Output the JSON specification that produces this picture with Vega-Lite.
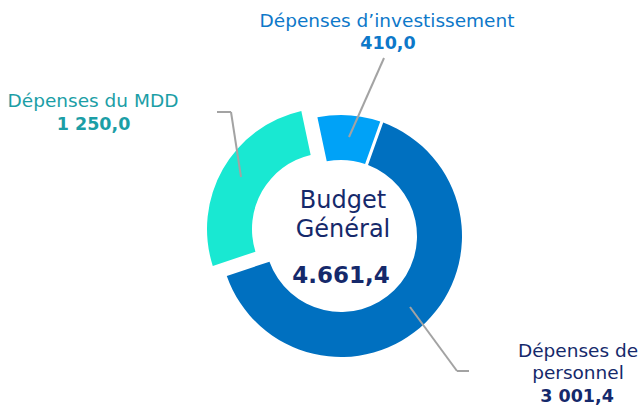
{
  "$schema": "https://vega.github.io/schema/vega-lite/v6.json",
  "width": 641,
  "height": 408,
  "autosize": "none",
  "padding": 0,
  "background": "white",
  "config": {
    "view": {"stroke": null},
    "font": "DejaVu Sans",
    "locale": {"number": {"decimal": ",", "thousands": ".", "grouping": [3], "currency": ["", ""]}}
  },
  "data": {
    "values": [
      {"rank": 1, "cat": "Dépenses d’investissement", "name": ["Dépenses d’investissement"], "value": 410.0, "label": "410,0"},
      {"rank": 2, "cat": "Dépenses de personnel", "name": ["Dépenses de", "personnel"], "value": 3001.4, "label": "3 001,4"},
      {"rank": 3, "cat": "Dépenses du MDD", "name": ["Dépenses du MDD"], "value": 1250.0, "label": "1 250,0"}
    ]
  },
  "transform": [
    {"stack": "value", "groupby": [], "sort": [{"field": "rank", "order": "ascending"}], "as": ["start", "end"]}
  ],
  "layer": [
    {
      "transform": [{"filter": "datum.rank != 3"}],
      "mark": {"type": "arc", "innerRadius": 76, "outerRadius": 121, "padAngle": 0.022, "xOffset": 20.5, "yOffset": 32},
      "encoding": {
        "theta": {"field": "start", "type": "quantitative", "scale": {"domain": [0, 4661.4], "range": [-0.2094, 6.0738]}},
        "theta2": {"field": "end"},
        "color": {"field": "cat", "type": "nominal", "legend": null,
          "scale": {"domain": ["Dépenses d’investissement", "Dépenses de personnel", "Dépenses du MDD"], "range": ["#00a2f7", "#0070c0", "#19e8d2"]}}
      }
    },
    {
      "transform": [{"filter": "datum.rank == 3"}],
      "mark": {"type": "arc", "innerRadius": 76, "outerRadius": 121, "padAngle": 0.022, "xOffset": 7.5, "yOffset": 25},
      "encoding": {
        "theta": {"field": "start", "type": "quantitative", "scale": {"domain": [0, 4661.4], "range": [-0.2094, 6.0738]}},
        "theta2": {"field": "end"},
        "color": {"field": "cat", "type": "nominal", "legend": null}
      }
    },
    {
      "transform": [{"filter": "datum.rank == 1"}],
      "mark": {"type": "rule", "color": "#a3a3a3", "strokeWidth": 2},
      "encoding": {"x": {"value": 349}, "y": {"value": 137}, "x2": {"value": 384}, "y2": {"value": 58}}
    },
    {
      "transform": [{"filter": "datum.rank == 3"}],
      "mark": {"type": "rule", "color": "#a3a3a3", "strokeWidth": 2},
      "encoding": {"x": {"value": 241}, "y": {"value": 177}, "x2": {"value": 231}, "y2": {"value": 112}}
    },
    {
      "transform": [{"filter": "datum.rank == 3"}],
      "mark": {"type": "rule", "color": "#a3a3a3", "strokeWidth": 2},
      "encoding": {"x": {"value": 231}, "y": {"value": 112}, "x2": {"value": 217}, "y2": {"value": 112}}
    },
    {
      "transform": [{"filter": "datum.rank == 2"}],
      "mark": {"type": "rule", "color": "#a3a3a3", "strokeWidth": 2},
      "encoding": {"x": {"value": 410}, "y": {"value": 307}, "x2": {"value": 457}, "y2": {"value": 371}}
    },
    {
      "transform": [{"filter": "datum.rank == 2"}],
      "mark": {"type": "rule", "color": "#a3a3a3", "strokeWidth": 2},
      "encoding": {"x": {"value": 457}, "y": {"value": 371}, "x2": {"value": 469}, "y2": {"value": 371}}
    },
    {
      "transform": [{"filter": "datum.rank == 1"}],
      "mark": {"type": "text", "align": "center", "baseline": "alphabetic", "fontSize": 18.5, "color": "#0d78c9"},
      "encoding": {"x": {"value": 387}, "y": {"value": 26.5}, "text": {"field": "name"}}
    },
    {
      "transform": [{"filter": "datum.rank == 1"}],
      "mark": {"type": "text", "align": "center", "baseline": "alphabetic", "fontSize": 17.5, "fontWeight": "bold", "color": "#0d78c9"},
      "encoding": {"x": {"value": 388}, "y": {"value": 48.5}, "text": {"field": "label"}}
    },
    {
      "transform": [{"filter": "datum.rank == 3"}],
      "mark": {"type": "text", "align": "center", "baseline": "alphabetic", "fontSize": 18.5, "color": "#1b9ea6"},
      "encoding": {"x": {"value": 93}, "y": {"value": 106.5}, "text": {"field": "name"}}
    },
    {
      "transform": [{"filter": "datum.rank == 3"}],
      "mark": {"type": "text", "align": "center", "baseline": "alphabetic", "fontSize": 17.5, "fontWeight": "bold", "color": "#1b9ea6"},
      "encoding": {"x": {"value": 93.5}, "y": {"value": 129.5}, "text": {"field": "label"}}
    },
    {
      "transform": [{"filter": "datum.rank == 2"}],
      "mark": {"type": "text", "align": "center", "baseline": "alphabetic", "fontSize": 18.5, "lineHeight": 22.5, "color": "#15296b"},
      "encoding": {"x": {"value": 578}, "y": {"value": 356.5}, "text": {"field": "name"}}
    },
    {
      "transform": [{"filter": "datum.rank == 2"}],
      "mark": {"type": "text", "align": "center", "baseline": "alphabetic", "fontSize": 17.5, "fontWeight": "bold", "color": "#15296b"},
      "encoding": {"x": {"value": 577}, "y": {"value": 402}, "text": {"field": "label"}}
    },
    {
      "transform": [{"aggregate": [{"op": "sum", "field": "value", "as": "total"}]}],
      "mark": {"type": "text", "align": "center", "baseline": "alphabetic", "fontSize": 24, "lineHeight": 29, "color": "#15296b"},
      "encoding": {"x": {"value": 343}, "y": {"value": 208}, "text": {"value": ["Budget", "Général"]}}
    },
    {
      "transform": [{"aggregate": [{"op": "sum", "field": "value", "as": "total"}]}],
      "mark": {"type": "text", "align": "center", "baseline": "alphabetic", "fontSize": 23, "fontWeight": "bold", "color": "#15296b"},
      "encoding": {"x": {"value": 341}, "y": {"value": 283}, "text": {"field": "total", "type": "quantitative", "format": ",.1f"}}
    }
  ]
}
